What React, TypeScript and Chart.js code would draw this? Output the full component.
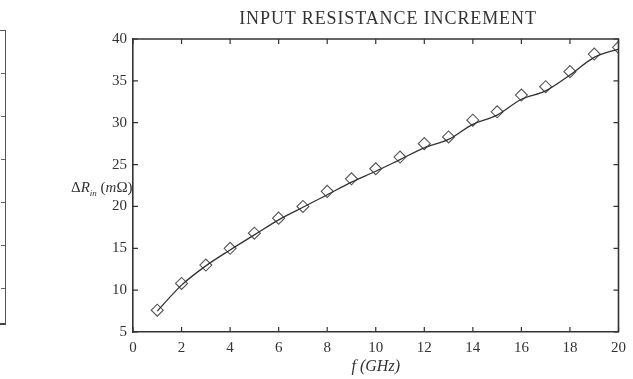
import React, { useEffect, useRef } from "react";
import { Chart, registerables } from "chart.js";

Chart.register(...registerables);

const frequencies = [1, 2, 3, 4, 5, 6, 7, 8, 9, 10, 11, 12, 13, 14, 15, 16, 17, 18, 19, 20];
const measured = [7.6, 10.8, 13.0, 15.0, 16.8, 18.6, 20.0, 21.8, 23.3, 24.5, 25.9, 27.5, 28.3, 30.3, 31.3, 33.3, 34.3, 36.1, 38.2, 39.0];
const model = [7.5, 10.6, 12.9, 14.8, 16.6, 18.4, 19.9, 21.4, 22.9, 24.2, 25.6, 27.0, 28.0, 29.8, 30.9, 32.8, 33.8, 35.7, 37.8, 38.8];
const xTickStep = 2;
const yTickStep = 5;
const chartTitle = "INPUT RESISTANCE INCREMENT";

const INK = "#333333";
const SERIF = "'Liberation Serif', 'DejaVu Serif', serif";

const frameTicks = {
  id: "frameTicks",
  afterDraw(chart: any) {
    const { ctx, chartArea } = chart;
    const { left, right, top, bottom } = chartArea;
    const xs = chart.scales.x;
    const ys = chart.scales.y;
    const len = 5;
    ctx.save();
    ctx.strokeStyle = INK;
    ctx.lineWidth = 1.2;
    ctx.beginPath();
    xs.ticks.forEach((t: any) => {
      const px = xs.getPixelForValue(t.value);
      ctx.moveTo(px, bottom);
      ctx.lineTo(px, bottom - len);
      ctx.moveTo(px, top);
      ctx.lineTo(px, top + len);
    });
    ys.ticks.forEach((t: any) => {
      const py = ys.getPixelForValue(t.value);
      ctx.moveTo(left, py);
      ctx.lineTo(left + len, py);
      ctx.moveTo(right, py);
      ctx.lineTo(right - len, py);
    });
    ctx.stroke();
    ctx.lineWidth = 1.6;
    ctx.beginPath();
    ctx.moveTo(left, top);
    ctx.lineTo(right, top);
    ctx.lineTo(right, bottom);
    ctx.stroke();
    ctx.restore();
  },
};

export default function App() {
  const ref = useRef<HTMLCanvasElement | null>(null);

  useEffect(() => {
    if (!ref.current) return;
    const chart = new Chart(ref.current, {
      type: "line",
      data: {
        datasets: [
          {
            label: "model",
            data: frequencies.map((f, i) => ({ x: f, y: model[i] })),
            borderColor: INK,
            borderWidth: 1.3,
            pointRadius: 0,
            cubicInterpolationMode: "monotone",
            fill: false,
          },
          {
            label: "measured",
            data: frequencies.map((f, i) => ({ x: f, y: measured[i] })),
            showLine: false,
            pointStyle: "rectRot",
            pointRadius: 6,
            pointBorderWidth: 1.1,
            pointBorderColor: "#555555",
            pointBackgroundColor: "rgba(0,0,0,0)",
          },
        ],
      },
      options: {
        responsive: false,
        animation: false,
        layout: { padding: { left: 0, right: 13, top: 39, bottom: 0 } },
        plugins: {
          legend: { display: false },
          tooltip: { enabled: false },
          title: { display: false },
        },
        scales: {
          x: {
            type: "linear",
            min: 0,
            max: 20,
            grid: { display: false, drawTicks: false },
            border: { display: true, color: INK, width: 1.6 },
            ticks: {
              stepSize: xTickStep,
              color: INK,
              padding: 7,
              maxRotation: 0,
              font: { family: SERIF, size: 15 },
            },
            title: {
              display: true,
              text: "f (GHz)",
              color: INK,
              font: { family: SERIF, size: 16, style: "italic" },
              padding: { top: 0, bottom: 3 },
            },
            afterFit: (scale: any) => {
              scale.height = 47;
            },
          },
          y: {
            type: "linear",
            min: 5,
            max: 40,
            grid: { display: false, drawTicks: false },
            border: { display: true, color: INK, width: 1.6 },
            ticks: {
              stepSize: yTickStep,
              color: INK,
              padding: 6,
              font: { family: SERIF, size: 15 },
            },
            afterFit: (scale: any) => {
              scale.width = 133;
            },
          },
        },
      },
      plugins: [frameTicks],
    } as any);
    return () => chart.destroy();
  }, []);

  return (
    <div style={{ position: "fixed", left: 0, top: 0, width: 633, height: 379, background: "#fff" }}>
      <div
        style={{
          position: "absolute",
          left: 0,
          top: 30,
          width: 5,
          height: 292,
          borderRight: "1px solid #555",
          borderTop: "1px solid #555",
          borderBottom: "2px solid #444",
        }}
      >
        <div
          style={{
            position: "absolute",
            right: 0,
            top: 0,
            width: 4,
            height: 292,
            background: "repeating-linear-gradient(to bottom, transparent 0px, transparent 42px, #666 42px, #666 43px)",
          }}
        />
      </div>
      <canvas ref={ref} width={633} height={379} style={{ display: "block" }} />
      <div
        style={{
          position: "absolute",
          left: 188,
          width: 400,
          top: 7,
          textAlign: "center",
          fontFamily: SERIF,
          fontSize: 18,
          lineHeight: "22px",
          color: INK,
          whiteSpace: "nowrap",
          letterSpacing: 0.9,
        }}
      >
        {chartTitle}
      </div>
      <div
        style={{
          position: "absolute",
          left: 71,
          top: 178,
          fontFamily: SERIF,
          fontSize: 15,
          color: INK,
          whiteSpace: "nowrap",
          lineHeight: "18px",
        }}
      >
        Δ<i>R</i>
        <sub style={{ fontSize: 9, fontStyle: "italic" }}>in</sub> (<i>m</i>Ω)
      </div>
    </div>
  );
}
